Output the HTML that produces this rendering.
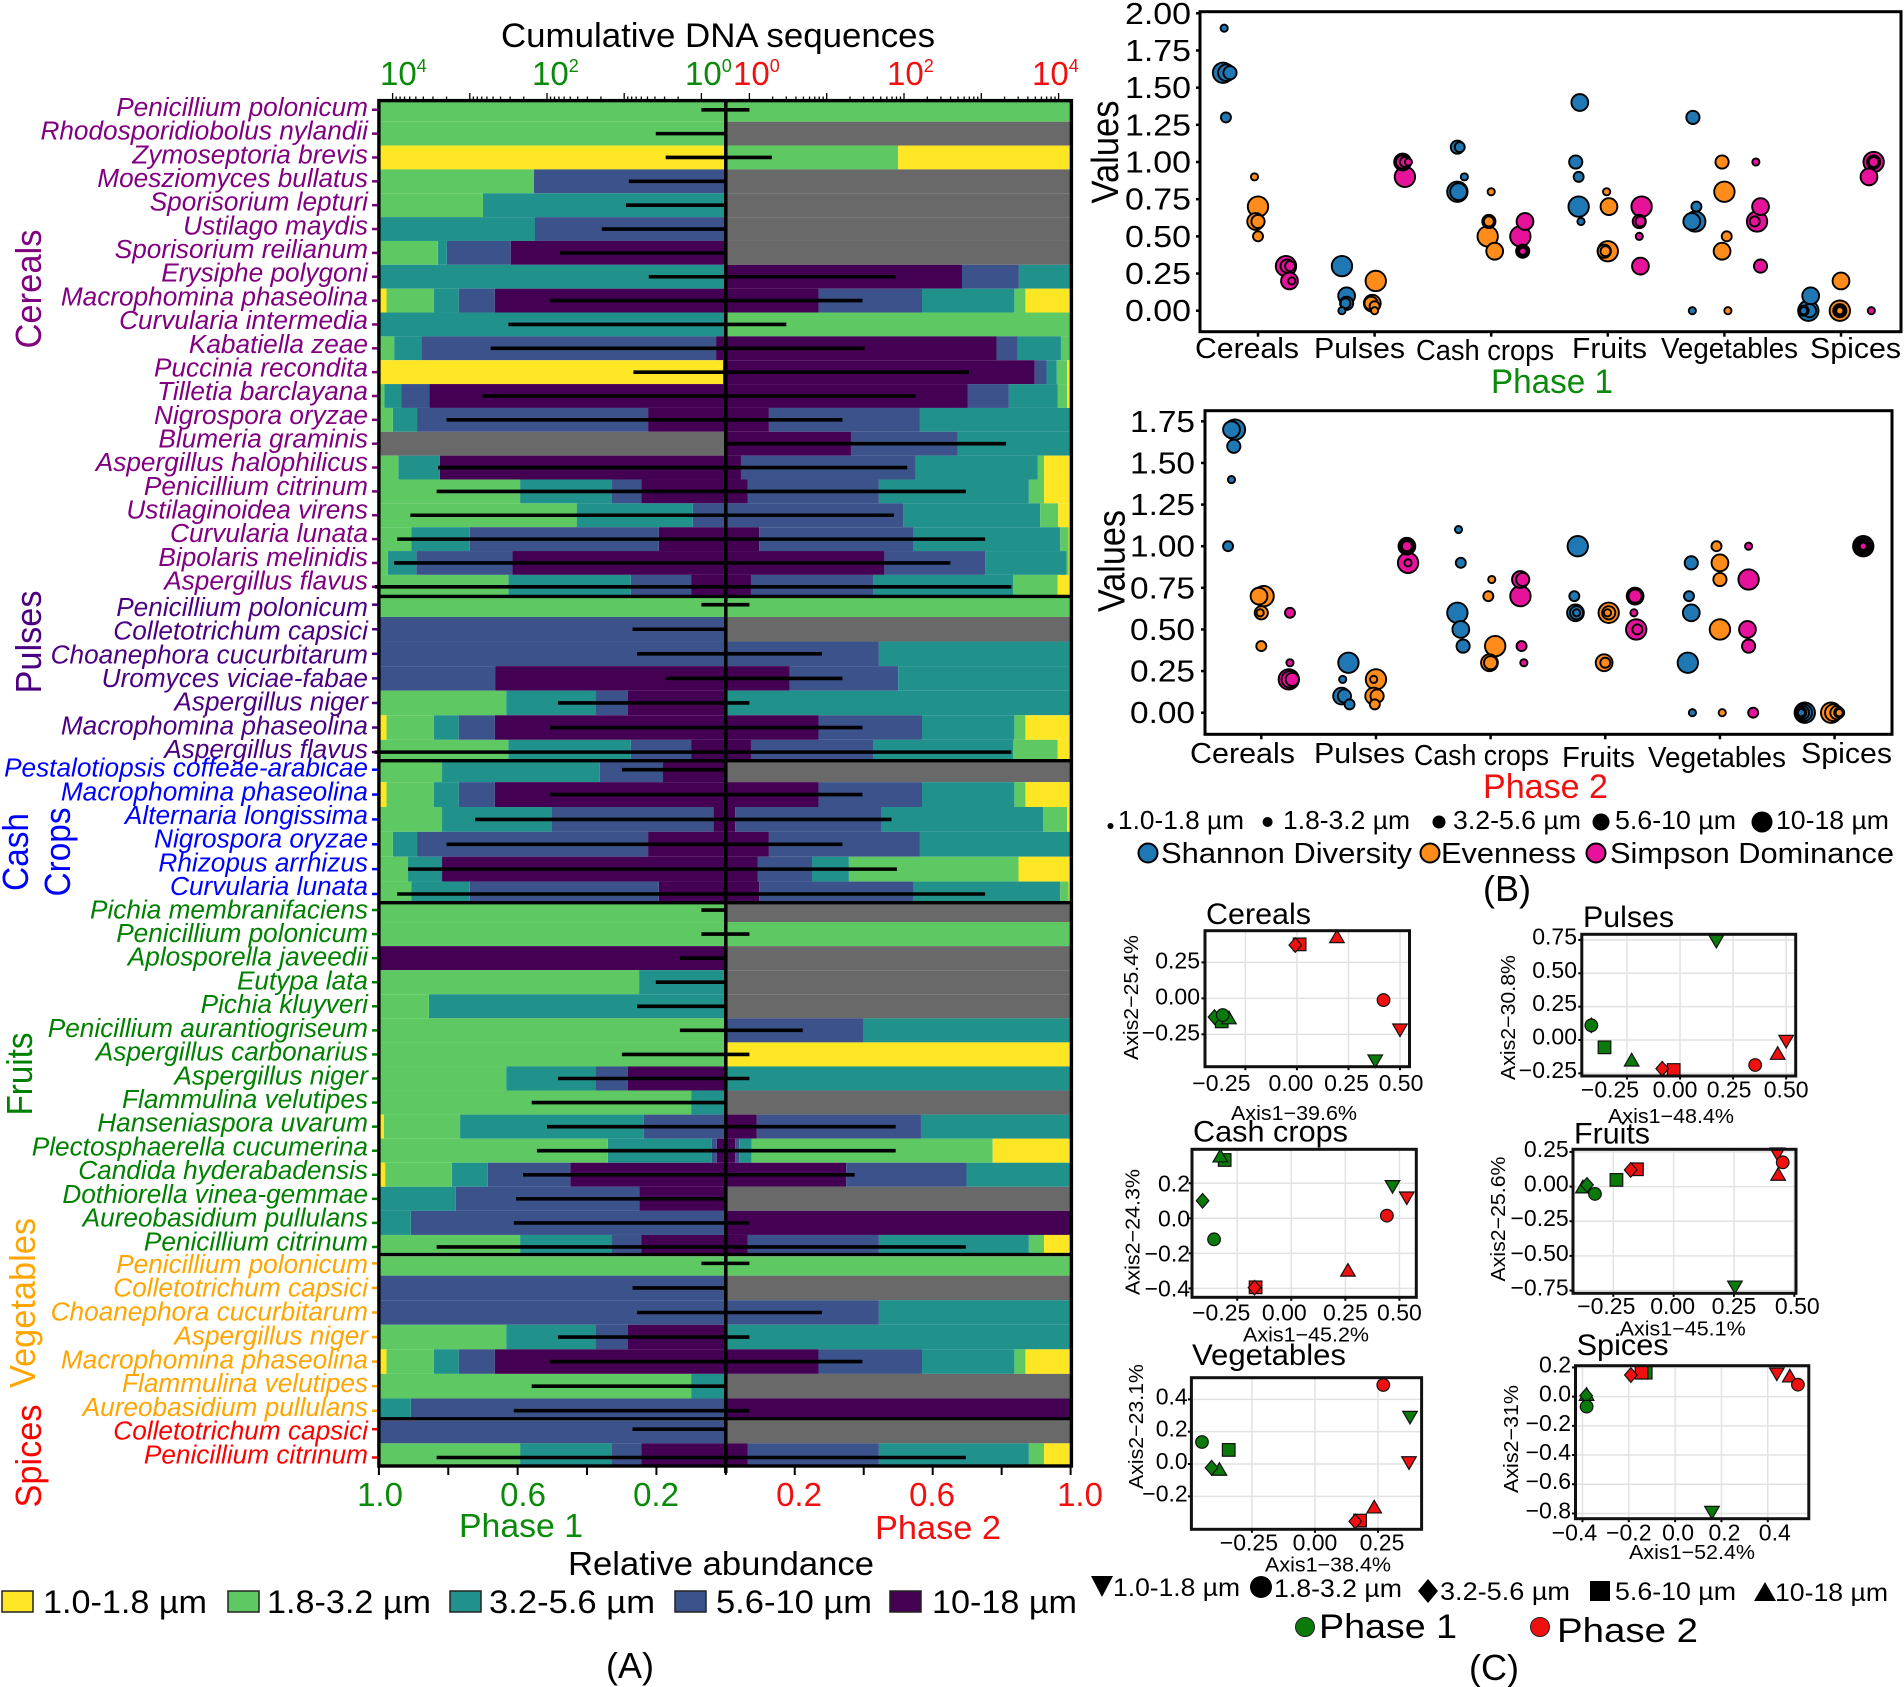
<!DOCTYPE html>
<html lang="en">
<head>
<meta charset="utf-8">
<title>Fungal taxa by particle size and phase</title>
<style>
html,body{margin:0;padding:0;background:#fff;}
svg{display:block;font-family:"Liberation Sans",sans-serif;}
</style>
</head>
<body>
<svg id="figure" xmlns="http://www.w3.org/2000/svg" width="1904" height="1687" viewBox="0 0 1904 1687">
<rect width="1904" height="1687" fill="#fff"/>
<g id="panelA"></g>

<!-- Panel A static text -->
<text x="718" y="47" font-size="34" text-anchor="middle" textLength="434" lengthAdjust="spacingAndGlyphs">Cumulative DNA sequences</text>
<g font-size="33">
<text x="380" y="85" fill="#0a8a0a">10<tspan font-size="18" dy="-13">4</tspan></text>
<text x="532" y="85" fill="#0a8a0a">10<tspan font-size="18" dy="-13">2</tspan></text>
<text x="685" y="85" fill="#0a8a0a">10<tspan font-size="18" dy="-13">0</tspan></text>
<text x="733" y="85" fill="#f01010">10<tspan font-size="18" dy="-13">0</tspan></text>
<text x="887" y="85" fill="#f01010">10<tspan font-size="18" dy="-13">2</tspan></text>
<text x="1032" y="85" fill="#f01010">10<tspan font-size="18" dy="-13">4</tspan></text>
</g>
<g font-size="33" text-anchor="middle">
<text x="380" y="1506" fill="#0a8a0a">1.0</text>
<text x="523" y="1506" fill="#0a8a0a">0.6</text>
<text x="656" y="1506" fill="#0a8a0a">0.2</text>
<text x="799" y="1506" fill="#f01010">0.2</text>
<text x="932" y="1506" fill="#f01010">0.6</text>
<text x="1080" y="1506" fill="#f01010">1.0</text>
</g>
<text x="521" y="1537" font-size="33" fill="#0a8a0a" text-anchor="middle" textLength="124" lengthAdjust="spacingAndGlyphs">Phase 1</text>
<text x="938" y="1539" font-size="33" fill="#f01010" text-anchor="middle" textLength="126" lengthAdjust="spacingAndGlyphs">Phase 2</text>
<text x="721" y="1575" font-size="33" text-anchor="middle" textLength="306" lengthAdjust="spacingAndGlyphs">Relative abundance</text>
<g font-size="32" stroke-linejoin="miter">
<g><rect x="2" y="1591" width="31" height="21" fill="#FDE725" stroke="#222" stroke-width="1.5"/><text x="43" y="1613" textLength="164" lengthAdjust="spacingAndGlyphs">1.0-1.8 µm</text></g>
<g><rect x="228" y="1591" width="31" height="21" fill="#5EC962" stroke="#222" stroke-width="1.5"/><text x="267" y="1613" textLength="164" lengthAdjust="spacingAndGlyphs">1.8-3.2 µm</text></g>
<g><rect x="450" y="1591" width="31" height="21" fill="#21918C" stroke="#222" stroke-width="1.5"/><text x="489" y="1613" textLength="166" lengthAdjust="spacingAndGlyphs">3.2-5.6 µm</text></g>
<g><rect x="675" y="1591" width="31" height="21" fill="#3B528B" stroke="#222" stroke-width="1.5"/><text x="716" y="1613" textLength="156" lengthAdjust="spacingAndGlyphs">5.6-10 µm</text></g>
<g><rect x="890" y="1591" width="31" height="21" fill="#440154" stroke="#222" stroke-width="1.5"/><text x="932" y="1613" textLength="145" lengthAdjust="spacingAndGlyphs">10-18 µm</text></g>
</g>
<text x="630" y="1678" font-size="36" text-anchor="middle">(A)</text>

<g id="panelB"></g>
<!-- Panel B static labels -->
<text transform="translate(1118,152) rotate(-90)" font-size="38" text-anchor="middle" textLength="103" lengthAdjust="spacingAndGlyphs">Values</text>
<g font-size="29">
<text x="1195" y="358" textLength="104" lengthAdjust="spacingAndGlyphs">Cereals</text>
<text x="1314" y="358" textLength="91" lengthAdjust="spacingAndGlyphs">Pulses</text>
<text x="1416" y="360" textLength="138" lengthAdjust="spacingAndGlyphs">Cash crops</text>
<text x="1572" y="358" textLength="75" lengthAdjust="spacingAndGlyphs">Fruits</text>
<text x="1661" y="358" textLength="137" lengthAdjust="spacingAndGlyphs">Vegetables</text>
<text x="1810" y="358" textLength="91" lengthAdjust="spacingAndGlyphs">Spices</text>
</g>
<text x="1491" y="393" font-size="34" fill="#0a8a0a" textLength="122" lengthAdjust="spacingAndGlyphs">Phase 1</text>

<text transform="translate(1124.5,561) rotate(-90)" font-size="38" text-anchor="middle" textLength="102" lengthAdjust="spacingAndGlyphs">Values</text>
<g font-size="29">
<text x="1190" y="763" textLength="105" lengthAdjust="spacingAndGlyphs">Cereals</text>
<text x="1314" y="763" textLength="91" lengthAdjust="spacingAndGlyphs">Pulses</text>
<text x="1414" y="765" textLength="135" lengthAdjust="spacingAndGlyphs">Cash crops</text>
<text x="1562" y="767" textLength="73" lengthAdjust="spacingAndGlyphs">Fruits</text>
<text x="1648" y="767" textLength="138" lengthAdjust="spacingAndGlyphs">Vegetables</text>
<text x="1801" y="763" textLength="91" lengthAdjust="spacingAndGlyphs">Spices</text>
</g>
<text x="1483" y="798" font-size="34" fill="#f01010" textLength="125" lengthAdjust="spacingAndGlyphs">Phase 2</text>

<g font-size="26">
<circle cx="1110.5" cy="826" r="3"/><text x="1118" y="829" textLength="126" lengthAdjust="spacingAndGlyphs">1.0-1.8 µm</text>
<circle cx="1267.6" cy="822" r="5"/><text x="1283" y="829" textLength="127" lengthAdjust="spacingAndGlyphs">1.8-3.2 µm</text>
<circle cx="1439" cy="822" r="6.5"/><text x="1453" y="829" textLength="128" lengthAdjust="spacingAndGlyphs">3.2-5.6 µm</text>
<circle cx="1601" cy="822" r="8.5"/><text x="1615" y="829" textLength="121" lengthAdjust="spacingAndGlyphs">5.6-10 µm</text>
<circle cx="1762" cy="822" r="10.5"/><text x="1776" y="829" textLength="113" lengthAdjust="spacingAndGlyphs">10-18 µm</text>
</g>
<g font-size="29">
<circle cx="1148" cy="853" r="9.5" fill="#1F78B4" stroke="#000" stroke-width="2"/><text x="1161" y="863" textLength="251" lengthAdjust="spacingAndGlyphs">Shannon Diversity</text>
<circle cx="1430" cy="853" r="9.5" fill="#FF8C1A" stroke="#000" stroke-width="2"/><text x="1441" y="863" textLength="135" lengthAdjust="spacingAndGlyphs">Evenness</text>
<circle cx="1596" cy="853" r="9.5" fill="#E6129A" stroke="#000" stroke-width="2"/><text x="1610" y="863" textLength="284" lengthAdjust="spacingAndGlyphs">Simpson Dominance</text>
</g>
<text x="1507" y="901" font-size="36" text-anchor="middle">(B)</text>

<g id="panelC"></g>
<!-- Panel C legends -->
<g font-size="25">
<polygon points="1091,1576 1113,1576 1102,1597"/><text x="1113" y="1596" textLength="127" lengthAdjust="spacingAndGlyphs">1.0-1.8 µm</text>
<circle cx="1261" cy="1587" r="11"/><text x="1274" y="1597" textLength="128" lengthAdjust="spacingAndGlyphs">1.8-3.2 µm</text>
<polygon points="1428,1579 1438,1591 1428,1603 1418,1591"/><text x="1440" y="1600" textLength="130" lengthAdjust="spacingAndGlyphs">3.2-5.6 µm</text>
<rect x="1590" y="1581" width="20" height="20"/><text x="1615" y="1600" textLength="121" lengthAdjust="spacingAndGlyphs">5.6-10 µm</text>
<polygon points="1754,1601 1776,1601 1765,1582"/><text x="1775" y="1601" textLength="113" lengthAdjust="spacingAndGlyphs">10-18 µm</text>
</g>
<g font-size="34">
<circle cx="1305" cy="1627" r="9.5" fill="#0a7a0a" stroke="#222" stroke-width="1"/><text x="1319" y="1638" textLength="138" lengthAdjust="spacingAndGlyphs">Phase 1</text>
<circle cx="1540" cy="1627" r="9.5" fill="#f01010" stroke="#222" stroke-width="1"/><text x="1557" y="1642" textLength="141" lengthAdjust="spacingAndGlyphs">Phase 2</text>
</g>
<text x="1494" y="1680" font-size="36" text-anchor="middle">(C)</text>
</svg>

<script>
/* ===== Panel A data ===== */
const groupNames = ["Cereals","Pulses","Cash crops","Fruits","Vegetables","Spices"];
const groupSizes = [21,7,6,15,7,2];
const speciesLabels = [
"Penicillium polonicum","Rhodosporidiobolus nylandii","Zymoseptoria brevis","Moesziomyces bullatus","Sporisorium lepturi","Ustilago maydis","Sporisorium reilianum","Erysiphe polygoni","Macrophomina phaseolina","Curvularia intermedia","Kabatiella zeae","Puccinia recondita","Tilletia barclayana","Nigrospora oryzae","Blumeria graminis","Aspergillus halophilicus","Penicillium citrinum","Ustilaginoidea virens","Curvularia lunata","Bipolaris melinidis","Aspergillus flavus",
"Penicillium polonicum","Colletotrichum capsici","Choanephora cucurbitarum","Uromyces viciae-fabae","Aspergillus niger","Macrophomina phaseolina","Aspergillus flavus",
"Pestalotiopsis coffeae-arabicae","Macrophomina phaseolina","Alternaria longissima","Nigrospora oryzae","Rhizopus arrhizus","Curvularia lunata",
"Pichia membranifaciens","Penicillium polonicum","Aplosporella javeedii","Eutypa lata","Pichia kluyveri","Penicillium aurantiogriseum","Aspergillus carbonarius","Aspergillus niger","Flammulina velutipes","Hanseniaspora uvarum","Plectosphaerella cucumerina","Candida hyderabadensis","Dothiorella vinea-gemmae","Aureobasidium pullulans","Penicillium citrinum",
"Penicillium polonicum","Colletotrichum capsici","Choanephora cucurbitarum","Aspergillus niger","Macrophomina phaseolina","Flammulina velutipes","Aureobasidium pullulans",
"Colletotrichum capsici","Penicillium citrinum"];
/* percent per size class: 1.0-1.8, 1.8-3.2, 3.2-5.6, 5.6-10, 10-18; empty = no data */
const phase1Abundance = [
[0,100,0,0,0],[0,100,0,0,0],[100,0,0,0,0],[0,44.7,0,55.3,0],[0,30,70,0,0],[0,0,45,55,0],[0,17,2.6,18.4,62],[0,0,100,0,0],[2.2,13.6,7.2,10.4,66.6],[0,0,100,0,0],[0,4.4,7.8,85,2.8],[99.2,0,0,0,0.8],[0,1.6,4.8,8.2,85.4],[0,4,7,66.6,22.4],[],[0,5.6,12,0,82.4],[0,40.7,26.5,8.4,24.4],[0,57,33.5,9.5,0],[0,9.4,16.8,54.5,19.3],[0,2.6,8.2,27.7,61.5],[0,37.3,35.3,17.4,10],
[0,100,0,0,0],[0,0,0,100,0],[0,0,0,100,0],[0,0,0,33.5,66.5],[0,36.7,25.7,9.4,28.2],[2.2,13.6,7.2,10.4,66.6],[0,37.3,35.3,17.4,10],
[0,18.2,45.5,18.2,18.1],[2.2,13.6,7.2,10.4,66.6],[0,18.2,31.5,46.7,3.6],[0,4,7,66.6,22.4],[0,8.4,9.8,0,81.8],[0,9.4,16.8,54.5,19.3],
[0,100,0,0,0],[0,100,0,0,0],[0,0,0,0,100],[0,75,25,0,0],[0,14.4,85.6,0,0],[0,100,0,0,0],[0,100,0,0,0],[0,36.7,25.7,9.4,28.2],[0,90,10,0,0],[1.4,22,53,23.6,0],[0,66,30,1.4,2.6],[1.8,19.2,10.4,23.8,44.8],[0,0,22.2,52.9,24.9],[0,0,9.2,90.8,0],[0,40.7,26.5,8.4,24.4],
[0,100,0,0,0],[0,0,0,100,0],[0,0,0,100,0],[0,36.7,25.7,9.4,28.2],[2.2,13.6,7.2,10.4,66.6],[0,90,10,0,0],[0,0,9.2,90.8,0],
[0,0,0,100,0],[0,40.7,26.5,8.4,24.4]];
const phase2Abundance = [
[0,100,0,0,0],[],[50,50,0,0,0],[],[],[],[],[0,0,15,16.5,68.5],[13.1,3.2,26.8,30,26.9],[0,100,0,0,0],[0,2.8,12.5,6.2,78.5],[1,3,3,3.4,89.6],[1,2.8,14.1,12,70.1],[0,0,43.7,43.8,12.5],[0,0,32.7,31,36.3],[7.7,1.8,35.5,50.6,4.4],[7.7,4.4,43.5,38.1,6.3],[3.6,5.2,39.7,51.5,0],[0.6,2.4,42.5,44.8,9.7],[0.6,0.6,23.6,29.2,46],[3.8,12.9,40.5,35.5,7.3],
[0,100,0,0,0],[],[0,0,55.6,44.4,0],[0,0,50,31.5,18.5],[0,0,100,0,0],[13.1,3.2,26.8,30,26.9],[3.8,12.9,40.5,35.5,7.3],
[],[13.1,3.2,26.8,30,26.9],[1,7,46.8,42.5,2.7],[0,0,43.7,43.8,12.5],[15.1,49.2,10.7,15.7,9.3],[0.6,2.4,42.5,44.8,9.7],
[],[0,100,0,0,0],[],[],[],[0,0,60,40,0],[100,0,0,0,0],[0,0,100,0,0],[],[0,0,43.4,47.6,9],[22.6,69.9,3.6,1.2,2.7],[0,0,30.2,34.9,34.9],[],[0,0,0,0,100],[7.7,4.4,43.5,38.1,6.3],
[0,100,0,0,0],[],[0,0,55.6,44.4,0],[0,0,100,0,0],[13.1,3.2,26.8,30,26.9],[],[0,0,0,0,100],
[],[7.7,4.4,43.5,38.1,6.3]];
/* cumulative DNA sequences; 0 = none detected */
const phase1Counts = [1,3.9,2.9,8.7,9.5,19.5,68,4.8,91,316,537,7.6,692,2000,0,2570,2690,5890,8710,9550,17000,
1,7.8,6.8,2.9,72,91,17000,
10.7,91,851,2000,6310,8710,
1,1,1.9,3.9,6.8,1.9,10.7,72,158,100,135,204,251,269,2690,
1,7.8,6.8,72,91,158,269,
7.8,2690];
const phase2Counts = [1,0,1.95,0,0,0,0,78,29,3,31,692,141,16,2090,110,631,74,1120,398,2450,
1,0,8.7,16,1,29,2450,
0,29,69,16,81,1120,
0,1,0,0,0,4.9,1,1,0,78,78,23,0,1,631,
1,0,8.7,1,29,0,1,
0,631];

/* ===== Panel B data: rows are crop × metric (Shannon, Evenness, Simpson); columns are size classes ===== */
const diversityCategories = ["Cereals","Pulses","Cash crops","Fruits","Vegetables","Spices"];
const diversityMetrics = ["Shannon","Evenness","Simpson"];
const diversity1Values = [
[1.9,1.3,1.6,1.6,1.6],[0.9,0.5,0.6,0.6,0.7],[0.2,0.3,0.3,0.2,0.3],
[0,0.05,0.05,0.1,0.3],[0,0.03,0.05,0.05,0.2],[1,1,1,1,0.9],
[0.9,1.1,1.1,0.8,0.8],[0.8,0.6,0.6,0.4,0.5],[0.4,0.4,0.4,0.6,0.5],
[0.6,0.9,1,1.4,0.7],[0.8,0.4,0.4,0.7,0.4],[0.5,0.6,0.6,0.3,0.7],
[0,0.7,1.3,0.6,0.6],[0,0.5,1,0.4,0.8],[1,0.6,0.3,0.7,0.6],
[0,0,0,0.1,0],[0,0,0,0.2,0],[0,1,1,0.9,1]];
const diversity1Jitter = [
[-29,-27.5,-24,-27,-30],[-3,0,0,-2,0],[29,27.5,25,27,24],
[-28,-25,-24,-24,-28],[0,0,-3,-2,1],[29,26,24,24,26],
[-23,-27,-29,-28,-29],[0,-2,-2,3,-3],[27,27,27,29,25],
[-23,-25,-27.5,-24,-25],[-1,-2,-3,1,0],[27,28,27,28,29],
[-27.5,-24,-27,-28,-25],[3,2,-2,-2,0],[27,26,31,31,28],
[-32,-32,-27,-26,-28],[-1,-1,-1,0,-1],[26,28,28,24,28]];
const diversity2Values = [
[1.4,1,1.6,1.7,1.7],[0.6,0.4,0.6,0.7,0.7],[0.3,0.6,0.2,0.2,0.2],
[0.2,0.05,0.1,0.1,0.3],[0.2,0.05,0.1,0.1,0.2],[0.9,1,1,1,0.9],
[1.1,0.9,0.4,0.5,0.6],[0.8,0.7,0.3,0.3,0.4],[0.3,0.4,0.8,0.8,0.7],
[0.6,0.7,0.6,0.6,1],[0.6,0.3,0.6,0.3,0.6],[0.6,0.5,0.7,0.7,0.5],
[0,0.7,0.9,0.6,0.3],[0,1,0.8,0.9,0.5],[1,0,0.4,0.5,0.8],
[0,0,0,0,0],[0,0,0,0,0],[1,1,1,1,1]];
const diversity2Jitter = [
[-26,-29,-24,-26,-23],[-1,0,0,-2,2],[25,25,27,25,24],
[-29,-23,-27.5,-30,-24],[-2,-1,1,-2,0],[28,27,27,27,28],
[-28,-26,-24,-26,-29],[1,-2,0,-1,4],[29,27,28,26,26],
[-25,-27,-25,-26,-24],[2,0,3,-1,3],[25,28,26,26,27],
[-24,-27,-25,-25,-28],[2,-3,0,0,0],[25,29,25,24,25],
[-29,-29,-28,-27,-26],[4,4,2,-1,-3],[25,25,25,25,25]];
const diversity1Ticks = [0,0.25,0.5,0.75,1,1.25,1.5,1.75,2];
const diversity2Ticks = [0,0.25,0.5,0.75,1,1.25,1.5,1.75];

/* ===== Panel C data: order is 1.0-1.8, 1.8-3.2, 3.2-5.6, 5.6-10, 10-18 ===== */
const cerealsPhase1X = [0.38,-0.36,-0.40,-0.365,-0.33];
const cerealsPhase1Y = [-0.43,-0.116,-0.13,-0.16,-0.14];
const cerealsPhase2X = [0.5,0.42,-0.008,0.013,0.194];
const cerealsPhase2Y = [-0.215,-0.012,0.37,0.375,0.424];
const pulsesPhase1X = [0.171,-0.418,-0.418,-0.356,-0.228];
const pulsesPhase1Y = [0.745,0.11,0.11,-0.055,-0.155];
const pulsesPhase2X = [0.5,0.354,-0.084,-0.03,0.46];
const pulsesPhase2Y = [-0.005,-0.1875,-0.215,-0.225,-0.105];
const cashPhase1X = [0.468,-0.357,-0.41,-0.308,-0.328];
const cashPhase1Y = [0.185,-0.12,0.10,0.333,0.352];
const cashPhase2X = [0.534,0.442,-0.17,-0.165,0.262];
const cashPhase2Y = [0.12,0.015,-0.396,-0.394,-0.30];
const fruitsPhase1X = [0.254,-0.326,-0.359,-0.237,-0.376];
const fruitsPhase1Y = [-0.72,-0.053,0.012,0.048,-0.007];
const fruitsPhase2X = [0.43,0.452,-0.178,-0.152,0.433];
const fruitsPhase2Y = [0.24,0.175,0.12,0.125,0.084];
const vegPhase1X = [0.377,-0.448,-0.41,-0.342,-0.379];
const vegPhase1Y = [0.293,0.136,-0.023,0.087,-0.037];
const vegPhase2X = [0.373,0.271,0.16,0.179,0.235];
const vegPhase2Y = [0.012,0.489,-0.355,-0.35,-0.27];
const spicesPhase1X = [0.159,-0.382,-0.384,-0.127,-0.382];
const spicesPhase1Y = [-0.788,-0.068,0.007,0.164,0.011];
const spicesPhase2X = [0.439,0.53,-0.191,-0.145,0.495];
const spicesPhase2Y = [0.16,0.082,0.148,0.164,0.137];

/* ===== helpers ===== */
const NS = "http://www.w3.org/2000/svg";
function make(parent, tag, name, attrs, content) {
  const el = document.createElementNS(NS, tag);
  
  
  for (const k in attrs) el.setAttribute(k, attrs[k]);
  if (content !== undefined) el.textContent = content;
  parent.appendChild(el);
  return el;
}
function slug(s) { return String(s).toLowerCase().replace(/[^a-z0-9.]+/g, '-'); }

/* ===== Panel A layout ===== */
const A = document.getElementById('panelA');
const centerX = 725.8, leftEdge = 378.9, rightEdge = 1070.6;
const groupTops = [100.6,597.3,762,904,1256.5,1420.7];
const groupBottoms = [596,759.5,901.7,1253,1417.6,1466];
const groupExpand = [0.385,0.3,0.31,0.25,0.28,0.3];
const labelFirstBaseline = [116,616,776.7,918.3,1272.8,1439.3];
const labelLastBaseline = [589.5,758,895,1250.3,1416,1463.3];
const groupColors = ["#800080","#4B0082","#0000FF","#008000","#FFA500","#FF0000"];
const sizeColors = ["#FDE725","#5EC962","#21918C","#3B528B","#440154"];
const sizeNames = ["1.0-1.8","1.8-3.2","3.2-5.6","5.6-10","10-18"];
function xLeftAbundance(v) { return centerX - (centerX - leftEdge) * v / 100; }
function xRightAbundance(v) { return centerX + (rightEdge - centerX) * v / 100; }
function xLeftCount(c) { return c > 0 ? 701.4 - Math.log10(c) * 77.2 : centerX; }
function xRightCount(c) { return c > 0 ? 749.4 + Math.log10(c) * 77.3 : centerX; }

function drawStack(row, values, side, top, h) {
  const scale = side === 'left' ? xLeftAbundance : xRightAbundance;
  const outer = scale(100);
  if (!values.length) {
    make(A, 'rect', 'no-data-' + side + '-' + row, {x: Math.min(centerX, outer), y: top, width: Math.abs(outer - centerX), height: h, fill: '#696969'});
    return;
  }
  let cum = 0;
  for (let k = 4; k >= 0; k--) {
    const v = values[k];
    if (!v) continue;
    const a = scale(cum), b = scale(cum + v);
    make(A, 'rect', 'bar-' + side + '-' + sizeNames[k] + '-row-' + row, {x: Math.min(a, b), y: top, width: Math.abs(b - a), height: h, fill: sizeColors[k]});
    cum += v;
  }
}

let rowIndex = 0;
const errorBars = [];
groupSizes.forEach(function (n, g) {
  const top = groupTops[g], bottom = groupBottoms[g];
  const step = (bottom - top) / (n - 1 + 2 * groupExpand[g]);
  for (let i = 0; i < n; i++) {
    const cy = top + (groupExpand[g] + i) * step;
    const y0 = Math.max(top, cy - step / 2), y1 = Math.min(bottom, cy + step / 2);
    drawStack(rowIndex, phase1Abundance[rowIndex], 'left', y0, y1 - y0);
    drawStack(rowIndex, phase2Abundance[rowIndex], 'right', y0, y1 - y0);
    make(A, 'line', 'species-tick-' + rowIndex, {x1: 372, x2: 379, y1: cy, y2: cy, stroke: groupColors[g], 'stroke-width': 2.5});
    const baseline = labelFirstBaseline[g] + (labelLastBaseline[g] - labelFirstBaseline[g]) * i / (n - 1);
    make(A, 'text', 'species-label-' + slug(speciesLabels[rowIndex]), {x: 368, y: baseline, 'font-size': 26.2, 'font-style': 'italic', 'text-anchor': 'end', fill: groupColors[g]}, speciesLabels[rowIndex]);
    errorBars.push([rowIndex, cy]);
    rowIndex++;
  }
});
/* frame and separators */
make(A, 'rect', 'abundance-frame', {x: 378.9, y: 100.6, width: 692.5, height: 1365.4, fill: 'none', stroke: '#000', 'stroke-width': 3.4});
[596.4, 760.7, 902.7, 1254.6, 1418.8].forEach(function (y, i) {
  make(A, 'line', 'group-separator-' + i, {x1: 378, x2: 1072, y1: y, y2: y, stroke: '#000', 'stroke-width': 3.4});
});
make(A, 'line', 'center-line', {x1: centerX, x2: centerX, y1: 100, y2: 1473, stroke: '#000', 'stroke-width': 3.5});
errorBars.forEach(function (e) {
  const i = e[0], cy = e[1];
  if (phase1Counts[i] > 0) make(A, 'line', 'error-bar-phase1-row-' + i, {x1: centerX, x2: xLeftCount(phase1Counts[i]), y1: cy, y2: cy, stroke: '#000', 'stroke-width': 3.6});
  if (phase2Counts[i] > 0) make(A, 'line', 'error-bar-phase2-row-' + i, {x1: centerX, x2: xRightCount(phase2Counts[i]), y1: cy, y2: cy, stroke: '#000', 'stroke-width': 3.6});
});
/* bottom ticks */
for (let t = -5; t <= 5; t++) {
  const x = t < 0 ? xLeftAbundance(-t * 20) : xRightAbundance(t * 20);
  make(A, 'line', 'bottom-tick-' + t, {x1: x, x2: x, y1: 1466, y2: 1475, stroke: '#000', 'stroke-width': 2});
}
/* top log ticks */
for (let d = 0; d <= 4; d++) {
  for (let m = 1; m <= 9; m++) {
    const c = m * Math.pow(10, d);
    if (c > 10000) continue;
    const h = m === 1 ? 7 : 3.5;
    const xa = xLeftCount(c), xb = xRightCount(c);
    make(A, 'line', 'top-tick-left-' + c, {x1: xa, x2: xa, y1: 100, y2: 100 - h, stroke: '#000', 'stroke-width': 1.3});
    make(A, 'line', 'top-tick-right-' + c, {x1: xb, x2: xb, y1: 100, y2: 100 - h, stroke: '#000', 'stroke-width': 1.3});
  }
}
/* group titles */
function groupTitle(str, cx, cy, len, color) {
  const t = make(A, 'text', 'group-title-' + slug(str), {transform: 'translate(' + (cx + 13) + ',' + cy + ') rotate(-90)', 'font-size': 36, fill: color, 'text-anchor': 'middle', textLength: len, lengthAdjust: 'spacingAndGlyphs'}, str);
  return t;
}
groupTitle('Cereals', 28, 289, 119, groupColors[0]);
groupTitle('Pulses', 28, 642, 103, groupColors[1]);
groupTitle('Cash', 15, 852, 78, groupColors[2]);
groupTitle('Crops', 57, 852, 89, groupColors[2]);
groupTitle('Fruits', 19, 1074, 83, groupColors[3]);
groupTitle('Vegetables', 22, 1303, 170, groupColors[4]);
groupTitle('Spices', 28, 1456, 103, groupColors[5]);

/* ===== Panel B ===== */
const B = document.getElementById('panelB');
const metricColors = ["#1F78B4","#FF8C1A","#E6129A"];
const bubbleRadii = [3.6,5,6.6,8.4,10.2];
function drawDiversity(prefix, values, jitter, ticks, frame, xFirst, xStep, y0, yPerUnit, labelRight, labelLen) {
  function xScale(cat, off) { return xFirst + (cat + off / 100) * xStep; }
  function yScale(v) { return y0 - v * yPerUnit; }
  make(B, 'rect', prefix + '-frame', {x: frame[0], y: frame[1], width: frame[2] - frame[0], height: frame[3] - frame[1], fill: '#fff', stroke: '#000', 'stroke-width': 3});
  ticks.forEach(function (t) {
    const y = yScale(t);
    make(B, 'line', prefix + '-y-tick-' + t, {x1: frame[0] - 4, x2: frame[0], y1: y, y2: y, stroke: '#000', 'stroke-width': 2.5});
    make(B, 'text', prefix + '-y-label-' + t, {x: labelRight, y: y + 10.5, 'font-size': 31, 'text-anchor': 'end', textLength: labelLen, lengthAdjust: 'spacingAndGlyphs'}, t.toFixed(2));
  });
  diversityCategories.forEach(function (c, i) {
    const x = xScale(i, 0);
    make(B, 'line', prefix + '-x-tick-' + slug(c), {x1: x, x2: x, y1: frame[3], y2: frame[3] + 5, stroke: '#000', 'stroke-width': 2.5});
    diversityMetrics.forEach(function (m, j) {
      const g = i * 3 + j;
      for (let s = 4; s >= 0; s--) {
        make(B, 'circle', prefix + '-point-' + slug(c) + '-' + m.toLowerCase() + '-' + sizeNames[s], {cx: xScale(i, jitter[g][s]), cy: yScale(values[g][s]), r: bubbleRadii[s], fill: metricColors[j], stroke: '#000', 'stroke-width': 1.9});
      }
    });
  });
}
drawDiversity('diversity1', diversity1Values, diversity1Jitter, diversity1Ticks, [1200,11.7,1901,331.7], 1258, 116.6, 310.7, 148.7, 1191, 66);
drawDiversity('diversity2', diversity2Values, diversity2Jitter, diversity2Ticks, [1205,410.7,1892,734.3], 1261.3, 114.66, 712.7, 166.5, 1195, 65);

/* ===== Panel C ===== */
const C = document.getElementById('panelC');
const phaseColors = ["#0a7a0a","#f01010"];
const drawOrder = [3,4,0,2,1];
function marker(parent, shape, x, y, color, name) {
  const r = 6.3;
  const style = {fill: color, stroke: '#111', 'stroke-width': 1.2};
  let el;
  if (shape === 1) el = make(parent, 'circle', name, {cx: x, cy: y, r: r});
  else if (shape === 3) el = make(parent, 'rect', name, {x: x - r, y: y - r, width: 2 * r, height: 2 * r});
  else {
    let pts;
    if (shape === 0) pts = [[x - r - 1, y - r + 1], [x + r + 1, y - r + 1], [x, y + r + 1]];
    if (shape === 4) pts = [[x - r - 1, y + r - 1], [x + r + 1, y + r - 1], [x, y - r - 1]];
    if (shape === 2) pts = [[x, y - r - 1], [x + r, y], [x, y + r + 1], [x - r, y]];
    el = make(parent, 'polygon', name, {points: pts.map(function (p) { return p.join(','); }).join(' ')});
  }
  for (const k in style) el.setAttribute(k, style[k]);
}
function drawOrdination(cfg) {
  const f = cfg.frame;
  function xScale(v) { return f[0] + (v - cfg.xDomain[0]) / (cfg.xDomain[1] - cfg.xDomain[0]) * (f[2] - f[0]); }
  function yScale(v) { return f[3] - (v - cfg.yDomain[0]) / (cfg.yDomain[1] - cfg.yDomain[0]) * (f[3] - f[1]); }
  const id = cfg.id;
  make(C, 'rect', id + '-plot-background', {x: f[0], y: f[1], width: f[2] - f[0], height: f[3] - f[1], fill: '#fff'});
  cfg.xTicks.forEach(function (t, i) {
    const x = xScale(t);
    make(C, 'line', id + '-x-grid-' + i, {x1: x, x2: x, y1: f[1], y2: f[3], stroke: '#e2e2e2', 'stroke-width': 1.5});
    make(C, 'line', id + '-x-tick-' + i, {x1: x, x2: x, y1: f[3], y2: f[3] + 3.5, stroke: '#000', 'stroke-width': 2});
    make(C, 'text', id + '-x-label-' + i, {x: x + cfg.xNudge[i], y: cfg.xLabelY, 'font-size': 23, 'text-anchor': 'middle'}, cfg.xLabels[i]);
  });
  cfg.yTicks.forEach(function (t, i) {
    const y = yScale(t);
    make(C, 'line', id + '-y-grid-' + i, {x1: f[0], x2: f[2], y1: y, y2: y, stroke: '#e2e2e2', 'stroke-width': 1.5});
    make(C, 'line', id + '-y-tick-' + i, {x1: f[0] - 3.5, x2: f[0], y1: y, y2: y, stroke: '#000', 'stroke-width': 2});
    make(C, 'text', id + '-y-label-' + i, {x: cfg.yLabelRight, y: y + 8 + cfg.yNudge, 'font-size': 23, 'text-anchor': 'end'}, cfg.yLabels[i]);
  });
  cfg.series.forEach(function (s, p) {
    drawOrder.forEach(function (k) {
      marker(C, k, xScale(s[0][k]), yScale(s[1][k]), phaseColors[p], id + '-phase' + (p + 1) + '-point-' + sizeNames[k]);
    });
  });
  make(C, 'rect', id + '-frame', {x: f[0], y: f[1], width: f[2] - f[0], height: f[3] - f[1], fill: 'none', stroke: '#111', 'stroke-width': 3});
  make(C, 'text', id + '-title', {x: cfg.titleX, y: cfg.titleY, 'font-size': 30, textLength: cfg.titleLen, lengthAdjust: 'spacingAndGlyphs'}, cfg.title);
  make(C, 'text', id + '-x-axis-title', {x: cfg.xTitle[0], y: cfg.xTitle[1], 'font-size': 20, 'text-anchor': 'middle', textLength: 126, lengthAdjust: 'spacingAndGlyphs'}, cfg.xAxisTitle);
  make(C, 'text', id + '-y-axis-title', {transform: 'translate(' + (cfg.yTitle[0] + 7) + ',' + cfg.yTitle[1] + ') rotate(-90)', 'font-size': 20, 'text-anchor': 'middle', textLength: cfg.yTitle[2], lengthAdjust: 'spacingAndGlyphs'}, cfg.yAxisTitle);
}
const twoDecX = ["−0.25","0.00","0.25","0.50"];
drawOrdination({id:'cereals-pcoa', title:'Cereals', titleX:1206, titleY:924, titleLen:105,
  frame:[1205,930.7,1409.5,1066.7], xDomain:[-0.446,0.546], yDomain:[-0.475,0.47],
  xTicks:[-0.25,0,0.25,0.5], xLabels:twoDecX, xNudge:[-24,-6,-2,1], xLabelY:1091,
  yTicks:[-0.25,0,0.25], yLabels:["−0.25","0.00","0.25"], yLabelRight:1200, yNudge:-2,
  xAxisTitle:'Axis1−39.6%', xTitle:[1294,1120], yAxisTitle:'Axis2−25.4%', yTitle:[1131,997.5,125],
  series:[[cerealsPhase1X,cerealsPhase1Y],[cerealsPhase2X,cerealsPhase2Y]]});
drawOrdination({id:'pulses-pcoa', title:'Pulses', titleX:1583, titleY:927, titleLen:91,
  frame:[1581.8,934.3,1795.7,1076], xDomain:[-0.463,0.545], yDomain:[-0.27,0.7925],
  xTicks:[-0.25,0,0.25,0.5], xLabels:twoDecX, xNudge:[-17,-5,-4,0], xLabelY:1097.7,
  yTicks:[-0.25,0,0.25,0.5,0.75], yLabels:["−0.25","0.00","0.25","0.50","0.75"], yLabelRight:1577, yNudge:-3.5,
  xAxisTitle:'Axis1−48.4%', xTitle:[1671,1123], yAxisTitle:'Axis2−30.8%', yTitle:[1508,1017.5,125],
  series:[[pulsesPhase1X,pulsesPhase1Y],[pulsesPhase2X,pulsesPhase2Y]]});
drawOrdination({id:'cash-crops-pcoa', title:'Cash crops', titleX:1193, titleY:1141.7, titleLen:155,
  frame:[1192,1149.3,1416.3,1297.3], xDomain:[-0.459,0.578], yDomain:[-0.451,0.394],
  xTicks:[-0.25,0,0.25,0.5], xLabels:twoDecX, xNudge:[-16,-7,0,0], xLabelY:1320.7,
  yTicks:[-0.4,-0.2,0,0.2], yLabels:["−0.4","−0.2","0.0","0.2"], yLabelRight:1190, yNudge:0,
  xAxisTitle:'Axis1−45.2%', xTitle:[1306,1341.7], yAxisTitle:'Axis2−24.3%', yTitle:[1132.5,1232,126],
  series:[[cashPhase1X,cashPhase1Y],[cashPhase2X,cashPhase2Y]]});
drawOrdination({id:'fruits-pcoa', title:'Fruits', titleX:1574, titleY:1143.3, titleLen:76,
  frame:[1573,1149.3,1796,1293.3], xDomain:[-0.417,0.507], yDomain:[-0.77,0.269],
  xTicks:[-0.25,0,0.25,0.5], xLabels:twoDecX, xNudge:[-7,-1,0,3], xLabelY:1314,
  yTicks:[-0.75,-0.5,-0.25,0,0.25], yLabels:["−0.75","−0.50","−0.25","0.00","0.25"], yLabelRight:1568.7, yNudge:-3,
  xAxisTitle:'Axis1−45.1%', xTitle:[1682.7,1335.7], yAxisTitle:'Axis2−25.6%', yTitle:[1497.8,1219,125],
  series:[[fruitsPhase1X,fruitsPhase1Y],[fruitsPhase2X,fruitsPhase2Y]]});
drawOrdination({id:'vegetables-pcoa', title:'Vegetables', titleX:1192, titleY:1365, titleLen:154,
  frame:[1191.4,1377.7,1421.6,1529.3], xDomain:[-0.49,0.423], yDomain:[-0.404,0.534],
  xTicks:[-0.25,0,0.25], xLabels:["−0.25","0.00","0.25"], xNudge:[-3,0,4], xLabelY:1550.7,
  yTicks:[-0.2,0,0.2,0.4], yLabels:["−0.2","0.0","0.2","0.4"], yLabelRight:1187.7, yNudge:-3,
  xAxisTitle:'Axis1−38.4%', xTitle:[1328,1571.7], yAxisTitle:'Axis2−23.1%', yTitle:[1136,1426.5,125],
  series:[[vegPhase1X,vegPhase1Y],[vegPhase2X,vegPhase2Y]]});
drawOrdination({id:'spices-pcoa', title:'Spices', titleX:1576.6, titleY:1355, titleLen:92,
  frame:[1575.5,1365.7,1808.8,1518.7], xDomain:[-0.43,0.577], yDomain:[-0.836,0.212],
  xTicks:[-0.4,-0.2,0,0.2,0.4], xLabels:["−0.4","−0.2","0.0","0.2","0.4"], xNudge:[-8,0,3,3,7], xLabelY:1540.7,
  yTicks:[-0.8,-0.6,-0.4,-0.2,0,0.2], yLabels:["−0.8","−0.6","−0.4","−0.2","0.0","0.2"], yLabelRight:1571, yNudge:-3,
  xAxisTitle:'Axis1−52.4%', xTitle:[1692,1559], yAxisTitle:'Axis2−31%', yTitle:[1511,1439,108],
  series:[[spicesPhase1X,spicesPhase1Y],[spicesPhase2X,spicesPhase2Y]]});
</script>
</body>
</html>
